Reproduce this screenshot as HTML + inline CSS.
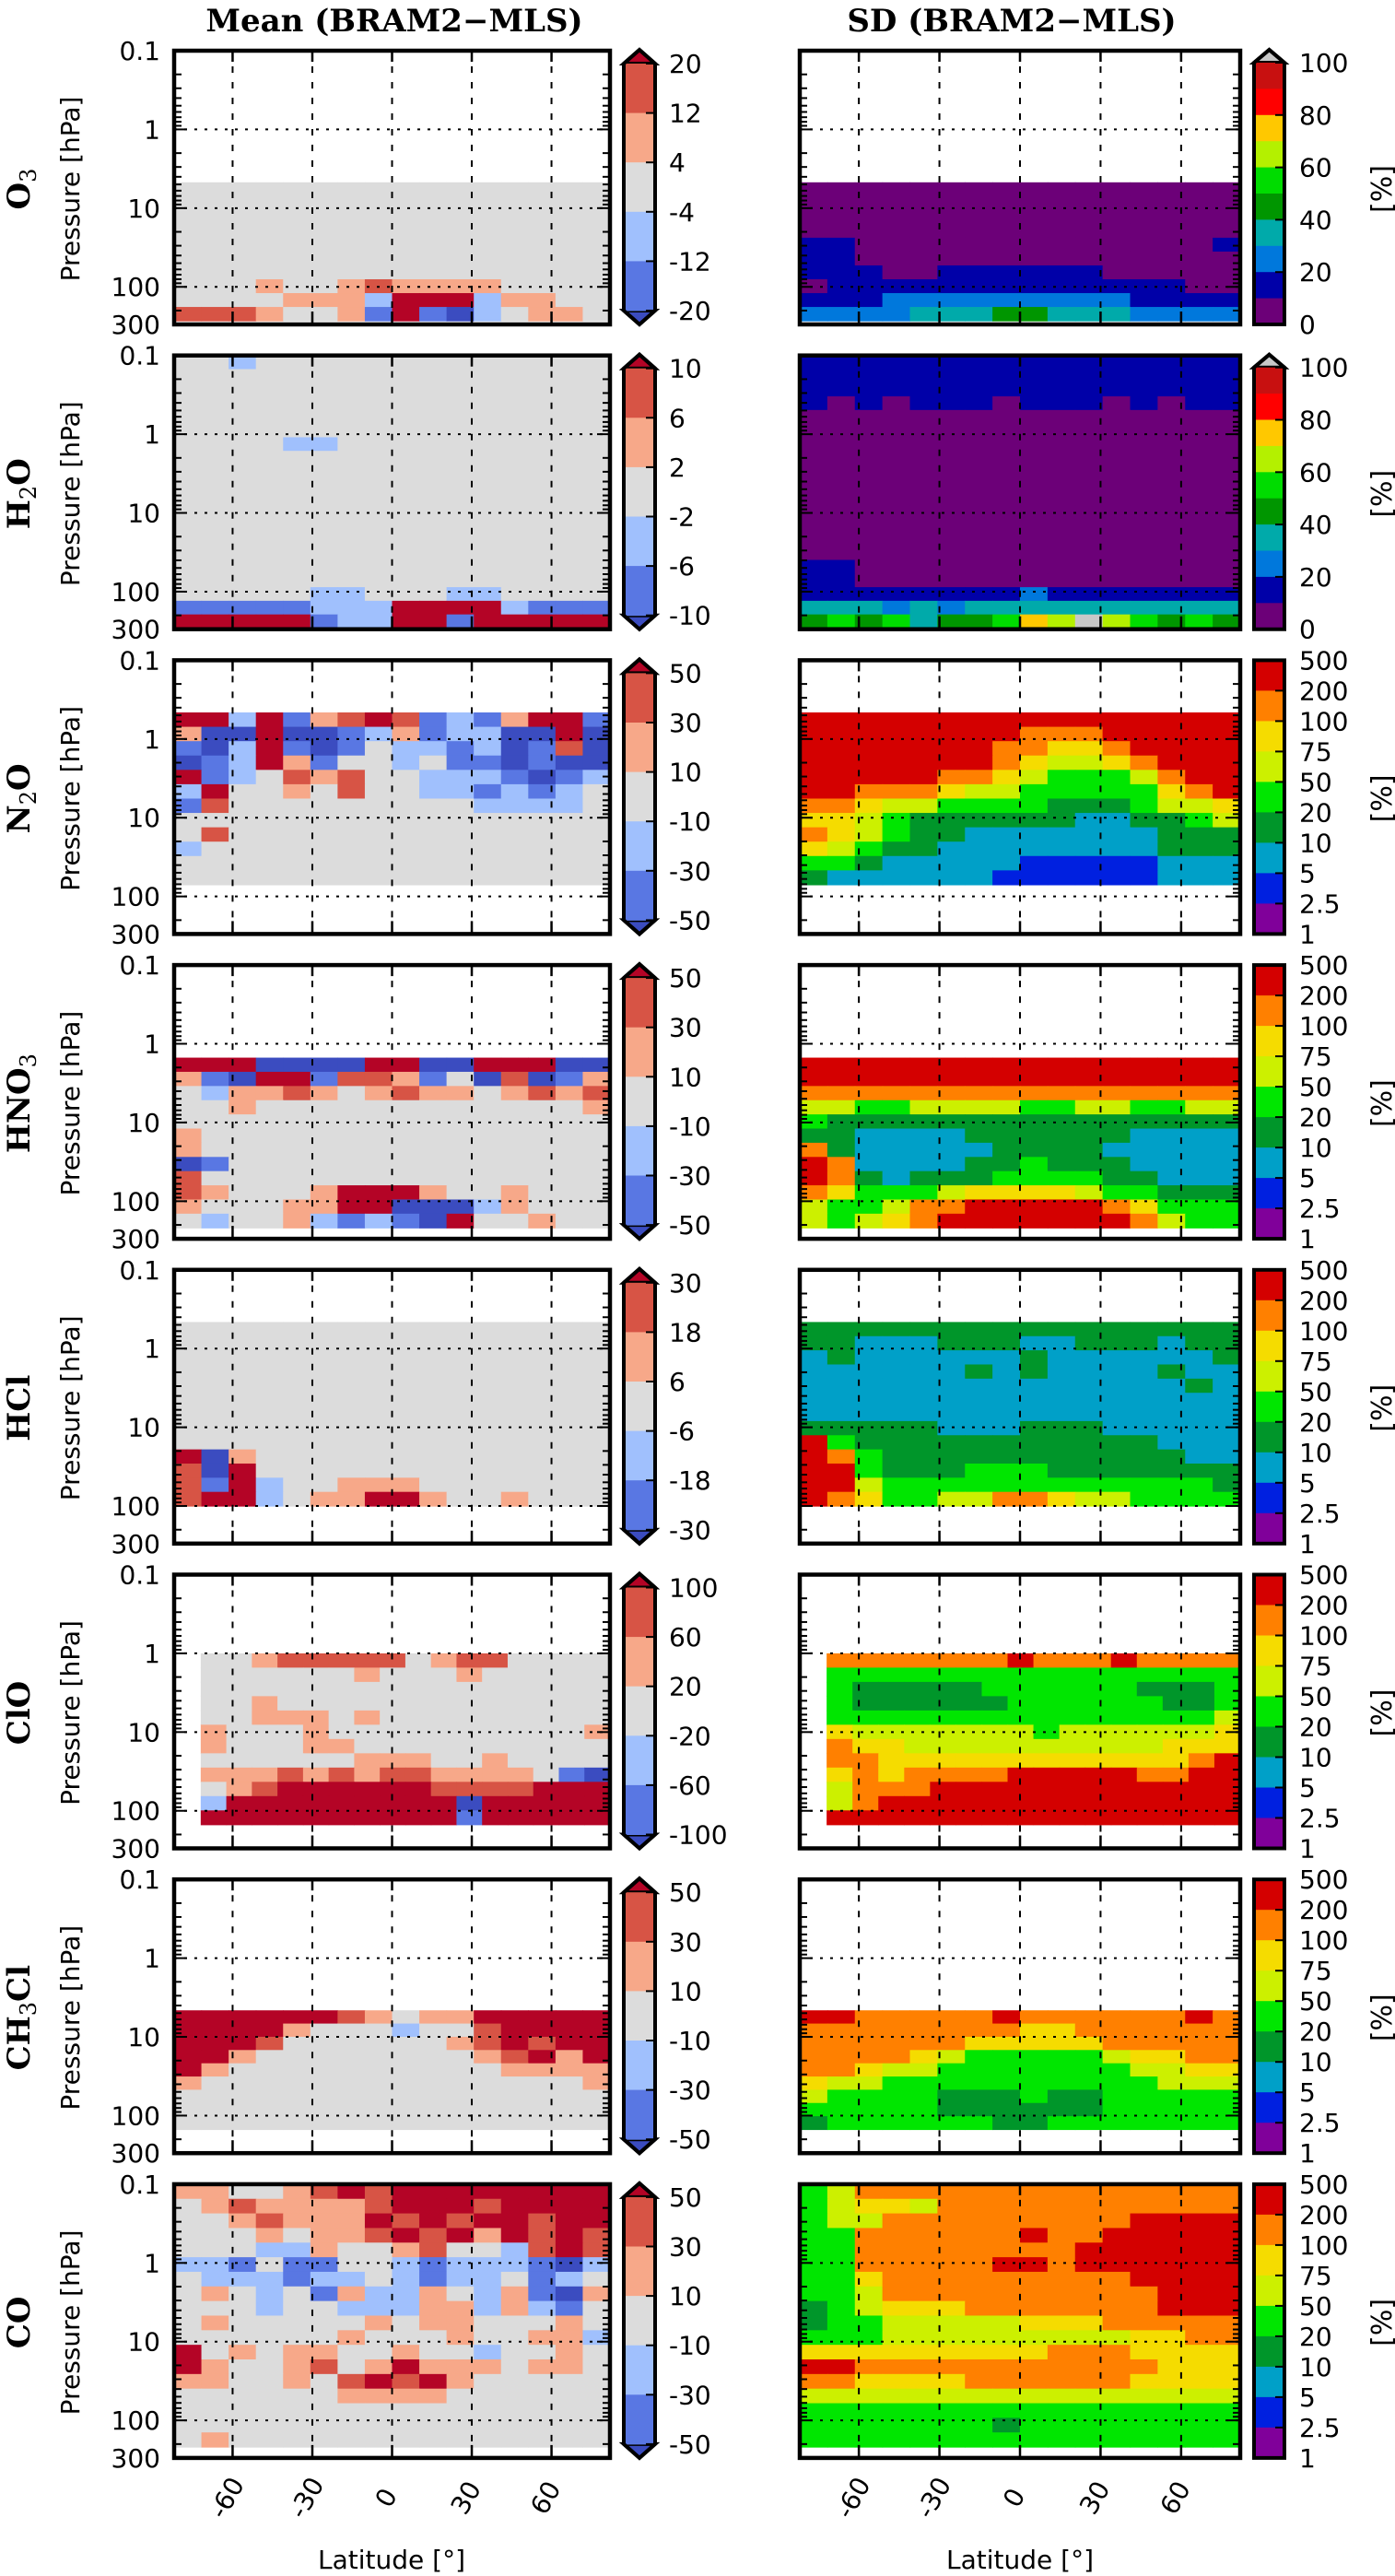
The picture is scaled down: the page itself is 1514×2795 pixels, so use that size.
<!DOCTYPE html>
<html><head><meta charset="utf-8"><title>BRAM2 - MLS comparison</title>
<style>
html,body{margin:0;padding:0;background:#fff;}
svg{display:block;}
text{font-family:"DejaVu Sans","Liberation Sans",sans-serif;}
.ser{font-family:"DejaVu Serif","Liberation Serif",serif;font-weight:bold;}
</style></head>
<body>
<svg id="fig" xmlns="http://www.w3.org/2000/svg" width="1514" height="2795" viewBox="0 0 1514 2795">
<rect x="0" y="0" width="1514" height="2795" fill="#fff"/>
<text class="ser" x="428" y="34" font-size="34" text-anchor="middle">Mean (BRAM2−MLS)</text>
<text class="ser" x="1098" y="34" font-size="34" text-anchor="middle">SD (BRAM2−MLS)</text>
<text x="425" y="2787" font-size="28" text-anchor="middle">Latitude [°]</text>
<text x="1107" y="2787" font-size="28" text-anchor="middle">Latitude [°]</text>
<g id="plots"></g>
</svg>
<script>
// ---------- axis data ----------
const latTicks = [-60, -30, 0, 30, 60];
const pTicks = [0.1, 1, 10, 100, 300];
const pTickLabels = ["0.1", "1", "10", "100", "300"];
const sdLinTicks = ["100", "80", "60", "40", "20", "0"];
const sdLogTicks = ["500", "200", "100", "75", "50", "20", "10", "5", "2.5", "1"];
const o3CbarTicks = [20, 12, 4, -4, -12, -20];
const h2oCbarTicks = [10, 6, 2, -2, -6, -10];
const n2oCbarTicks = [50, 30, 10, -10, -30, -50];
const hno3CbarTicks = [50, 30, 10, -10, -30, -50];
const hclCbarTicks = [30, 18, 6, -6, -18, -30];
const cloCbarTicks = [100, 60, 20, -20, -60, -100];
const ch3clCbarTicks = [50, 30, 10, -10, -30, -50];
const coCbarTicks = [50, 30, 10, -10, -30, -50];

// data ranges [pTop, pBottom] hPa and latitude range
const o3Range = [4.7, 270];
const h2oRange = [0.1, 290];
const n2oRange = [0.46, 71];
const hno3Range = [1.5, 218];
const hclRange = [0.46, 100];
const cloRange = [1, 150];
const ch3clRange = [4.6, 150];
const coRange = [0.1, 218];
const fullLat = [-82, 82];
const cloLat = [-72, 82];

// ---------- gridded level classes (rows top->bottom, 16 latitude bins) ----------
const o3Mean = ["3333333333333333","3333333333333333","3333333333333333","3333333333333333","3333333333333333","3333333333333333","3333333333333333","3334334544443333","3333444266624433","5554334161023443"];
const o3Sd = ["0000000000000000","0000000000000000","0000000000000000","0000000000000000","1100000000000001","1100000000000000","1110011111100000","0111111111111100","1112222222221111","2222333443332222"];
const h2oMean = ["3323333333333333","3333333333333333","3333333333333333","3333333333333333","3333333333333333","3333333333333333","3333223333333333","3333333333333333","3333333333333333","3333333333333333","3333333333333333","3333333333333333","3333333333333333","3333333333333333","3333333333333333","3333333333333333","3333333333333333","3333322333223333","1111122266662111","6666612266166666"];
const h2oSd = ["1111111111111111","1111111111111111","1111111111111111","1010111011101011","0000000000000000","0000000000000000","0000000000000000","0000000000000000","0000000000000000","0000000000000000","0000000000000000","0000000000000000","0000000000000000","0000000000000000","0000000000000000","1100000000000000","1100000000000000","1111111121111111","3332323333333333","4545344576a65454"];
const n2oMean = ["6626145651214661","4006001241220060","1026101322120150","0126413323110100","6123545332221012","2633435332212123","1533333333322223","3333333333333333","3533333333333333","2333333333333333","3333333333333333","3333333333333333"];
const n2oSd = ["8888888888888888","8888888877788888","8888888776678888","8888888765567888","8888877654445788","8877765544444678","7765544443334556","6654333333223345","7654332222222333","6543322222222333","4432222211111222","3222222111111222"];
const hno3Mean = ["6660000660066600","4106615541305014","3244543454434545","3343333333333334","3333333333333333","4333333333333333","4333333333333333","0133333333333333","5333333333333333","5433346664334333","4333446600024333","3233421210633433"];
const hno3Sd = ["8888888888888888","8888888888888888","7777777777777777","5544555544554455","4333333333333333","3322223333332222","7322222333322222","8722223343332222","8732333444433222","7644456666544333","5445778888876444","5456788888887544"];
const hclMean = ["3333333333333333","3333333333333333","3333333333333333","3333333333333333","3333333333333333","3333333333333333","3333333333333333","3333333333333333","3333333333333333","6043333333333333","5063333333333333","5162334443333333","5662344664334333"];
const hclSd = ["3333333333333333","3322233322333233","2322222232222223","2222223232222322","2222222222222232","2222222222222222","2222222222222222","3333322233322222","8433333333333222","8743333333333322","8843334443333333","8854444444444443","8764455776554444"];
const cloMean = ["3345555534553333","3333334333433333","3333333333333333","3343333333333333","3344434333333333","4333433333333334","4333443333333333","3333334443343333","4445454554444310","3456666665555666","2666666666066666","6666666666166666"];
const cloSd = ["7777777877787777","4444444444444444","4333334444443334","4333333444444334","4444444444444445","6555555545555556","7665555555555666","7766666666666678","6767777888887788","5777888888888888","5788888888888888","8888888888888888"];
const ch3clMean = ["6666665434466666","6666433323356666","6665333333456566","6643333333345646","6433333333334444","4333333333333334","3333333333333333","3333333333333333","3333333333333333"];
const ch3clSd = ["8877777877777787","7777777766777777","7777776666677777","7777654444456677","7765544444445566","6554444444444555","5444433343344444","4444433333344444","3444444334444444"];
const coMean = ["4433456566666666","3454444566656666","3345444656566566","3334344565646565","3332243345332565","2213113321222102","3222122321223123","3432314224324104","3332332224424213","3433333434433343","3333334333433442","6343443343323343","6433453464443443","4433435656433333","3333334444333333","3333333333333333","3333333333333333","3433333333333333"];
const coSd = ["4577777777777777","4566577777777777","4557777777778888","4477777787788888","4477777777888888","4477777887888888","4467777777778888","4457777777777888","3456667777777888","3445555566677777","4445555555556677","6666666667776666","8877777777777666","7766667777776666","5555555555555555","4444444444444444","4444444344444444","4444444444444444"];

// ---------- colours ----------
const meanColors = ["#3b4cc0","#5977e3","#a0c0fd","#dcdcdc","#f7a889","#d75445","#b40426"];
const linColors = ["#6c0078","#0000a8","#0078dc","#00aaaa","#009600","#00dc00","#b4f000","#ffc800","#ff0000","#c81010","#c8c8c8"];
const logColors = ["#80009a","#0020e0","#00a0c8","#00962a","#00e600","#ccf000","#f5dc00","#ff8000","#d40000"];

const rows = [
  {key:"o3", lab:[["O",0],["3",1]], mean:o3Mean, sd:o3Sd, range:o3Range, lat:fullLat, cb:o3CbarTicks, lin:true},
  {key:"h2o", lab:[["H",0],["2",1],["O",0]], mean:h2oMean, sd:h2oSd, range:h2oRange, lat:fullLat, cb:h2oCbarTicks, lin:true},
  {key:"n2o", lab:[["N",0],["2",1],["O",0]], mean:n2oMean, sd:n2oSd, range:n2oRange, lat:fullLat, cb:n2oCbarTicks, lin:false},
  {key:"hno3", lab:[["HNO",0],["3",1]], mean:hno3Mean, sd:hno3Sd, range:hno3Range, lat:fullLat, cb:hno3CbarTicks, lin:false},
  {key:"hcl", lab:[["HCl",0]], mean:hclMean, sd:hclSd, range:hclRange, lat:fullLat, cb:hclCbarTicks, lin:false},
  {key:"clo", lab:[["ClO",0]], mean:cloMean, sd:cloSd, range:cloRange, lat:cloLat, cb:cloCbarTicks, lin:false},
  {key:"ch3cl", lab:[["CH",0],["3",1],["Cl",0]], mean:ch3clMean, sd:ch3clSd, range:ch3clRange, lat:fullLat, cb:ch3clCbarTicks, lin:false},
  {key:"co", lab:[["CO",0]], mean:coMean, sd:coSd, range:coRange, lat:fullLat, cb:coCbarTicks, lin:false}
];

const NS = "http://www.w3.org/2000/svg";
const root = document.getElementById("plots");
const LAT0 = -82, LAT1 = 82;
const BOXH = 297, ROW0 = 55, ROWSTEP = 330.7;
const LEFT = [189, 662], RIGHT = [868, 1346];
function mk(tag, attrs, parent) {
  const e = document.createElementNS(NS, tag);
  for (const k in attrs) e.setAttribute(k, attrs[k]);
  (parent || root).appendChild(e);
  return e;
}
function yScale(p, top) { return top + (Math.log10(p) + 1) / (Math.log10(300) + 1) * BOXH; }
function xScale(lat, xr) { return xr[0] + (lat - LAT0) / (LAT1 - LAT0) * (xr[1] - xr[0]); }

function drawPanel(g, grid, colors, range, latR, xr, top, side) {
  const lt = Math.log10(range[0]), lb = Math.log10(range[1]);
  const n = grid.length;
  for (let i = 0; i < n; i++) {
    const s = grid[i];
    const m = s.length;
    const y0 = yScale(Math.pow(10, lt + (lb - lt) * i / n), top);
    const y1 = yScale(Math.pow(10, lt + (lb - lt) * (i + 1) / n), top);
    for (let j = 0; j < m; j++) {
      const v = parseInt(s[j], 16);
      const x0 = xScale(latR[0] + (latR[1] - latR[0]) * j / m, xr);
      const x1 = xScale(latR[0] + (latR[1] - latR[0]) * (j + 1) / m, xr);
      const r = mk("rect", {x: x0.toFixed(2), y: y0.toFixed(2), width: (x1 - x0 + 0.6).toFixed(2), height: (y1 - y0 + 0.6).toFixed(2), fill: colors[v]}, g);
      
      
    }
  }
  for (const lat of latTicks) {
    const x = xScale(lat, xr);
    const l = mk("line", {x1: x, y1: top, x2: x, y2: top + BOXH, stroke: "#000", "stroke-width": 2, "stroke-dasharray": "7,10"}, g);
    
    
    const t1 = mk("line", {x1: x, y1: top, x2: x, y2: top + 12, stroke: "#000", "stroke-width": 2.5}, g);
    
    
    const t2 = mk("line", {x1: x, y1: top + BOXH - 14, x2: x, y2: top + BOXH, stroke: "#000", "stroke-width": 2.5}, g);
    
    
  }
  for (const p of [1, 10, 100]) {
    const y = yScale(p, top);
    const l = mk("line", {x1: xr[0], y1: y, x2: xr[1], y2: y, stroke: "#000", "stroke-width": 2, "stroke-dasharray": "3,8"}, g);
    
    
  }
  for (let d = -1; d <= 2; d++) {
    for (let k = 1; k <= 9; k++) {
      const p = k * Math.pow(10, d);
      if (p > 300 || (d === -1 && k === 1)) continue;
      const y = yScale(p, top);
      const len = (k === 1) ? 14 : 8;
      const a = mk("line", {x1: xr[0], y1: y, x2: xr[0] + len, y2: y, stroke: "#000", "stroke-width": 2}, g);
      
      
      const b = mk("line", {x1: xr[1] - len, y1: y, x2: xr[1], y2: y, stroke: "#000", "stroke-width": 2}, g);
      
      
    }
  }
  const box = mk("rect", {x: xr[0], y: top, width: xr[1] - xr[0], height: BOXH, fill: "none", stroke: "#000", "stroke-width": 4.5}, g);
  
  
}

rows.forEach((r, k) => {
  const top = ROW0 + ROWSTEP * k;
  const g = mk("g", {});
  
  

  const lab = mk("text", {class: "ser", x: 0, y: 0, "font-size": 34, "text-anchor": "middle", transform: "translate(32," + (top + 150) + ") rotate(-90)"}, g);
  
  
  let sub = false;
  r.lab.forEach(([s, isSub]) => {
    const ts = document.createElementNS(NS, "tspan");
    ts.textContent = s;
    if (isSub && !sub) { ts.setAttribute("dy", "7"); ts.setAttribute("font-size", "24"); ts.setAttribute("font-weight", "normal"); sub = true; }
    else if (!isSub && sub) { ts.setAttribute("dy", "-7"); sub = false; }
    lab.appendChild(ts);
  });
  const pl = mk("text", {x: 0, y: 0, "font-size": 28, "text-anchor": "middle", transform: "translate(86," + (top + 150) + ") rotate(-90)"}, g);
  pl.textContent = "Pressure [hPa]";
  
  
  pTicks.forEach((p, i) => {
    const t = mk("text", {x: 174, y: yScale(p, top) + 10, "font-size": 28, "text-anchor": "end"}, g);
    t.textContent = pTickLabels[i];
    
    
  });

  drawPanel(g, r.mean, meanColors, r.range, r.lat, LEFT, top, 'mean');
  drawPanel(g, r.sd, r.lin ? linColors : logColors, r.range, r.lat, RIGHT, top, 'sd');

  const cx0 = 677, cx1 = 711, ct = top + 14, cbt = top + 282;
  const nb = r.cb.length - 1;
  const bh = (cbt - ct) / nb;
  const triT = mk("polygon", {points: cx0 + "," + ct + " " + (cx0 + cx1) / 2 + "," + (top - 1) + " " + cx1 + "," + ct, fill: meanColors[6], stroke: "#000", "stroke-width": 4}, g);
  
  
  const triB = mk("polygon", {points: cx0 + "," + cbt + " " + (cx0 + cx1) / 2 + "," + (top + BOXH) + " " + cx1 + "," + cbt, fill: meanColors[0], stroke: "#000", "stroke-width": 4}, g);
  
  
  for (let i = 0; i < nb; i++) {
    const c = mk("rect", {x: cx0, y: ct + i * bh, width: cx1 - cx0, height: bh + 0.5, fill: meanColors[5 - i]}, g);
    
    
  }
  r.cb.forEach((v, i) => {
    const y = ct + i * bh;
    const tk = mk("line", {x1: cx1 - 10, y1: y, x2: cx1, y2: y, stroke: "#000", "stroke-width": 2}, g);
    
    
    const t = mk("text", {x: 726, y: y + 10, "font-size": 28}, g);
    t.textContent = String(v);
    
    
  });
  const cbf = mk("path", {d: "M" + cx0 + "," + ct + " L" + (cx0 + cx1) / 2 + "," + (top - 1) + " L" + cx1 + "," + ct + " L" + cx1 + "," + cbt + " L" + (cx0 + cx1) / 2 + "," + (top + BOXH) + " L" + cx0 + "," + cbt + " Z", fill: "none", stroke: "#000", "stroke-width": 4}, g);
  
  

  const sx0 = 1361, sx1 = 1394;
  if (r.lin) {
    const st = top + 13, sb = top + BOXH, sh = (sb - st) / 10;
    const tri = mk("polygon", {points: sx0 + "," + st + " " + (sx0 + sx1) / 2 + "," + (top - 1) + " " + sx1 + "," + st, fill: linColors[10], stroke: "#000", "stroke-width": 4}, g);
    
    
    for (let i = 0; i < 10; i++) {
      const c = mk("rect", {x: sx0, y: st + i * sh, width: sx1 - sx0, height: sh + 0.5, fill: linColors[9 - i]}, g);
      
      
    }
    sdLinTicks.forEach((v, i) => {
      const y = st + i * 2 * sh;
      const tk = mk("line", {x1: sx1 - 10, y1: y, x2: sx1, y2: y, stroke: "#000", "stroke-width": 2}, g);
      
      
      const t = mk("text", {x: 1410, y: y + 10, "font-size": 28}, g);
      t.textContent = v;
      
      
    });
    const f = mk("path", {d: "M" + sx0 + "," + st + " L" + (sx0 + sx1) / 2 + "," + (top - 1) + " L" + sx1 + "," + st + " L" + sx1 + "," + sb + " L" + sx0 + "," + sb + " Z", fill: "none", stroke: "#000", "stroke-width": 4}, g);
    
    
  } else {
    const st = top, sb = top + BOXH, sh = (sb - st) / 9;
    for (let i = 0; i < 9; i++) {
      const c = mk("rect", {x: sx0, y: st + i * sh, width: sx1 - sx0, height: sh + 0.5, fill: logColors[8 - i]}, g);
      
      
    }
    sdLogTicks.forEach((v, i) => {
      const y = st + i * sh;
      const tk = mk("line", {x1: sx1 - 10, y1: y, x2: sx1, y2: y, stroke: "#000", "stroke-width": 2}, g);
      
      
      const t = mk("text", {x: 1410, y: Math.min(y + 10, top + BOXH + 12), "font-size": 28}, g);
      t.textContent = v;
      
      
    });
    const f = mk("rect", {x: sx0, y: st, width: sx1 - sx0, height: BOXH, fill: "none", stroke: "#000", "stroke-width": 4}, g);
    
    
  }
  const pc = mk("text", {x: 0, y: 0, "font-size": 30, "text-anchor": "middle", transform: "translate(1510," + (top + 150) + ") rotate(-90)"}, g);
  pc.textContent = "[%]";
  
  

  if (k === rows.length - 1) {
    [LEFT, RIGHT].forEach((xr, side) => {
      latTicks.forEach(lat => {
        const x = xScale(lat, xr);
        const t = mk("text", {x: 0, y: 0, "font-size": 28, "text-anchor": "middle", transform: "translate(" + (x + 2) + "," + (top + BOXH + 48) + ") rotate(-60)"}, g);
        t.textContent = String(lat);
        
        
      });
    });
  }
});
</script>
</body></html>
